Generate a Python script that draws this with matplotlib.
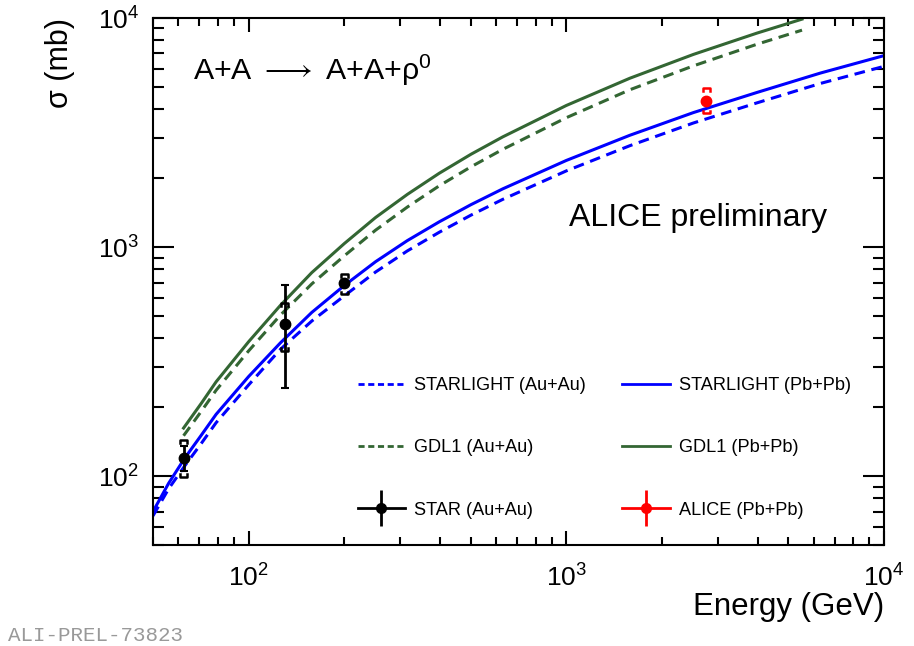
import numpy as np
import matplotlib
matplotlib.use("Agg")
import matplotlib.pyplot as plt
from matplotlib.lines import Line2D

plt.rcParams["font.family"] = ["Liberation Sans", "DejaVu Sans"]
plt.rcParams["mathtext.fontset"] = "custom"
plt.rcParams["mathtext.rm"] = "Liberation Sans"
plt.rcParams["mathtext.it"] = "Liberation Sans:italic"

# STARLIGHT predictions (mb) vs energy (GeV)
sl_energy = [50, 56, 63, 71, 79, 100, 126, 158, 200, 251, 316, 398, 501, 631,
             1000, 1585, 2512, 3981, 6310, 10000]
sl_pbpb = [70, 93, 120, 151, 186, 272, 382, 518, 679, 863, 1067, 1288, 1531, 1795,
           2388, 3076, 3864, 4730, 5750, 6850]
sl_auau = [67, 88, 111, 139, 171, 250, 358, 475, 612, 778, 962, 1160, 1378, 1615,
           2150, 2770, 3480, 4260, 5180, 6150]

# GDL1 predictions (mb)
gdl_energy = [62.4, 71, 79, 100, 126, 158, 200, 251, 316, 398, 501, 631,
              1000, 1585, 2512, 3981, 5520]
gdl_pbpb = [162, 208, 258, 386, 557, 773, 1035, 1346, 1698, 2099, 2541, 3027,
            4150, 5458, 6934, 8590, 9886]
gdl_auau = [150, 192, 237, 352, 505, 690, 915, 1185, 1495, 1850, 2240, 2670,
            3670, 4860, 6180, 7680, 8850]

# STAR measurements (Au+Au)
star_energy = [62.4, 130, 200]
star_xsec = [120, 463, 694]
star_stat = [15, 220, 20]
star_sys_up = [23, 105, 68]
star_sys_dn = [21, 110, 72]

# ALICE measurement (Pb+Pb)
alice_energy = [2760]
alice_xsec = [4355]
alice_stat = [100]
alice_sys_up = [575]
alice_sys_dn = [525]

blue = "#0000ff"
green = "#336633"
red = "#ff0000"

fig = plt.figure(figsize=(9.14, 6.46), dpi=100)
ax = fig.add_axes([153 / 914, 1 - 545 / 646, 731 / 914, 527 / 646])
ax.set_xscale("log")
ax.set_yscale("log")

ax.plot(sl_energy, sl_auau, color=blue, lw=2.2, ls=(0, (3.5, 2.2)))
ax.plot(sl_energy, sl_pbpb, color=blue, lw=2.2)
ax.plot(gdl_energy, gdl_auau, color=green, lw=2.2, ls=(0, (3.5, 2.2)))
ax.plot(gdl_energy, gdl_pbpb, color=green, lw=2.2)


def sys_brackets(x, y, up, dn, color):
    # small [ ] corner brackets for systematic errors
    for xi, yi, u, d in zip(x, y, up, dn):
        xl, xr = xi / 10 ** 0.011, xi * 10 ** 0.011
        hook = 10 ** 0.012
        top, bot = yi + u, yi - d
        ax.plot([xl, xl, xr, xr], [top / hook, top, top, top / hook], color=color, lw=1.8)
        ax.plot([xl, xl, xr, xr], [bot * hook, bot, bot, bot * hook], color=color, lw=1.8)


sys_brackets(star_energy, star_xsec, star_sys_up, star_sys_dn, "black")
sys_brackets(alice_energy, alice_xsec, alice_sys_up, alice_sys_dn, red)

ax.errorbar(star_energy, star_xsec, yerr=star_stat, fmt="o", color="black",
            ms=7.5, elinewidth=2, capsize=3, capthick=1.5, zorder=5)
ax.errorbar(alice_energy, alice_xsec, yerr=alice_stat, fmt="o", color=red,
            ms=7.5, elinewidth=2, capsize=0, zorder=5)

ax.set_xlim(50, 1e4)
ax.set_ylim(50, 1e4)

for side in ax.spines.values():
    side.set_linewidth(1.5)
ax.tick_params(which="both", direction="in", top=True, right=True, width=1.5)
ax.tick_params(axis="y", which="major", length=15, labelsize=19, pad=10)
ax.tick_params(axis="y", which="minor", length=8)
ax.tick_params(axis="x", which="major", length=10, labelsize=19, pad=14)
ax.tick_params(axis="x", which="minor", length=6)

ax.text(1.0, -0.118, "Energy (GeV)", transform=ax.transAxes, ha="right", va="center", fontsize=22.5)
ax.text(-0.127, 1.0, "σ (mb)", transform=ax.transAxes, rotation=90, ha="center", va="top", fontsize=22)

ax.text(0.055, 0.901, r"A+A $\longrightarrow$ A+A+ρ$^{0}$", transform=ax.transAxes,
        ha="left", va="center", fontsize=21.8)
ax.text(0.922, 0.620, "ALICE preliminary", transform=ax.transAxes,
        ha="right", va="center", fontsize=23)

fig.text(0.009, 0.017, "ALI-PREL-73823", family="Liberation Mono", color="#999999",
         fontsize=15, ha="left", va="center")

# legend with cross-shaped handles for the data points
star_h = (Line2D([], [], color="black", lw=2),
          Line2D([], [], color="black", marker="|", ms=26, mew=2, ls="none"),
          Line2D([], [], color="black", marker="o", ms=7, ls="none"))
alice_h = (Line2D([], [], color=red, lw=2),
           Line2D([], [], color=red, marker="|", ms=26, mew=2, ls="none"),
           Line2D([], [], color=red, marker="o", ms=7, ls="none"))
handles = [
    Line2D([], [], color=blue, lw=2, ls=(0, (2.2, 1.3))),
    Line2D([], [], color=green, lw=2, ls=(0, (2.2, 1.3))),
    star_h,
    Line2D([], [], color=blue, lw=2),
    Line2D([], [], color=green, lw=2),
    alice_h,
]
labels = ["STARLIGHT (Au+Au)", "GDL1 (Au+Au)", "STAR (Au+Au)",
          "STARLIGHT (Pb+Pb)", "GDL1 (Pb+Pb)", "ALICE (Pb+Pb)"]
ax.legend(handles, labels, ncol=2, frameon=False, fontsize=13.1, loc="upper left",
          bbox_to_anchor=(0.28, 0.319), borderpad=0, borderaxespad=0,
          handlelength=2.6, handletextpad=0.5, columnspacing=2.0, labelspacing=2.5)

fig.savefig("out.png", dpi=100)
